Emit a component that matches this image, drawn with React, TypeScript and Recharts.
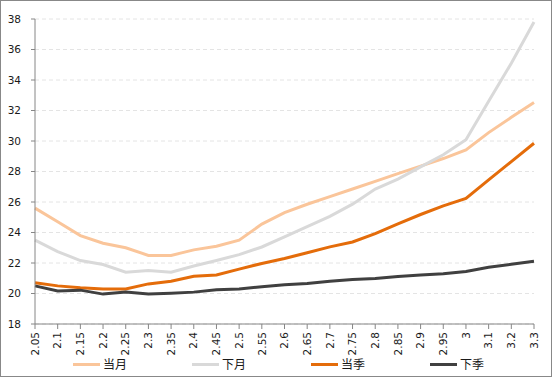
import { CartesianGrid, Legend, Line, LineChart, XAxis, YAxis } from 'recharts';

const categories = ['2.05', '2.1', '2.15', '2.2', '2.25', '2.3', '2.35', '2.4', '2.45', '2.5', '2.55', '2.6',
  '2.65', '2.7', '2.75', '2.8', '2.85', '2.9', '2.95', '3', '3.1', '3.2', '3.3'];

const curMonth = [25.6, 24.7, 23.8, 23.3, 23.0, 22.5, 22.5, 22.86, 23.1, 23.5, 24.55, 25.3,
  25.85, 26.35, 26.85, 27.35, 27.86, 28.35, 28.85, 29.42, 30.55, 31.55, 32.52];
const nextMonth = [23.5, 22.75, 22.16, 21.9, 21.4, 21.5, 21.4, 21.8, 22.16, 22.55, 23.05, 23.72,
  24.38, 25.06, 25.86, 26.85, 27.5, 28.3, 29.1, 30.08, 32.6, 35.1, 37.8];
const curQuarter = [20.7, 20.5, 20.37, 20.3, 20.3, 20.63, 20.8, 21.13, 21.22, 21.6, 21.97, 22.3,
  22.67, 23.06, 23.38, 23.93, 24.56, 25.18, 25.75, 26.23, 27.45, 28.65, 29.85];
const nextQuarter = [20.5, 20.17, 20.22, 19.96, 20.1, 19.96, 20.02, 20.09, 20.24, 20.3, 20.44, 20.57,
  20.65, 20.8, 20.92, 20.98, 21.11, 21.22, 21.29, 21.44, 21.72, 21.92, 22.12];

const yTicks = [18, 20, 22, 24, 26, 28, 30, 32, 34, 36, 38];

const series = [
  { key: 'curMonth', name: '当月', color: '#FAC59A' },
  { key: 'nextMonth', name: '下月', color: '#D9D9D9' },
  { key: 'curQuarter', name: '当季', color: '#E46C0A' },
  { key: 'nextQuarter', name: '下季', color: '#404040' },
];

const data = categories.map((k, i) => ({
  k,
  curMonth: curMonth[i],
  nextMonth: nextMonth[i],
  curQuarter: curQuarter[i],
  nextQuarter: nextQuarter[i],
}));

const FONT = '"DejaVu Sans", Verdana, sans-serif';

function XTick({ x, y, payload }: any) {
  return (
    <g transform={`translate(${x},${y})`}>
      <text transform="rotate(-90)" textAnchor="end" dy="0.35em" x={-1} fontSize={10.5} fill="#1a1a1a" fontFamily={FONT}>
        {payload.value}
      </text>
    </g>
  );
}

function LegendBox() {
  return (
    <div style={{ position: 'relative', height: 22, width: 550 }}>
      {series.map((s, i) => (
        <div key={s.key} style={{ position: 'absolute', left: 72 + i * 119, top: 2, display: 'flex', alignItems: 'center' }}>
          <span style={{ display: 'inline-block', width: 27, height: 3, background: s.color, marginRight: 3 }} />
          <span style={{ fontFamily: '"Noto Sans CJK SC", sans-serif', fontSize: 12, color: '#1a1a1a', lineHeight: '16px' }}>
            {s.name}
          </span>
        </div>
      ))}
    </div>
  );
}

export default function App() {
  return (
    <div style={{ position: 'absolute', left: 0, top: 0, width: 550, height: 375, border: '1px solid #888', background: '#fff' }}>
      <LineChart width={550} height={375} data={data} margin={{ top: 18, right: 17, left: 0, bottom: 0 }}>
        <CartesianGrid vertical={false} stroke="#e4e4e4" strokeDasharray="4 3" />
        <XAxis
          dataKey="k"
          interval={0}
          height={30}
          tick={<XTick />}
          tickSize={5}
          axisLine={{ stroke: '#868686' }}
          tickLine={{ stroke: '#868686' }}
        />
        <YAxis
          domain={[18, 38]}
          ticks={yTicks}
          width={34}
          tickSize={4}
          tickMargin={10}
          axisLine={{ stroke: '#868686' }}
          tickLine={{ stroke: '#868686' }}
          tick={{ fontSize: 10.5, fill: '#1a1a1a', fontFamily: FONT }}
          interval={0}
        />
        <Legend verticalAlign="bottom" content={<LegendBox />} wrapperStyle={{ left: 0, width: 550 }} />
        {series.map((s) => (
          <Line
            key={s.key}
            type="linear"
            dataKey={s.key}
            name={s.name}
            stroke={s.color}
            strokeWidth={3}
            dot={false}
            isAnimationActive={false}
          />
        ))}
      </LineChart>
    </div>
  );
}
